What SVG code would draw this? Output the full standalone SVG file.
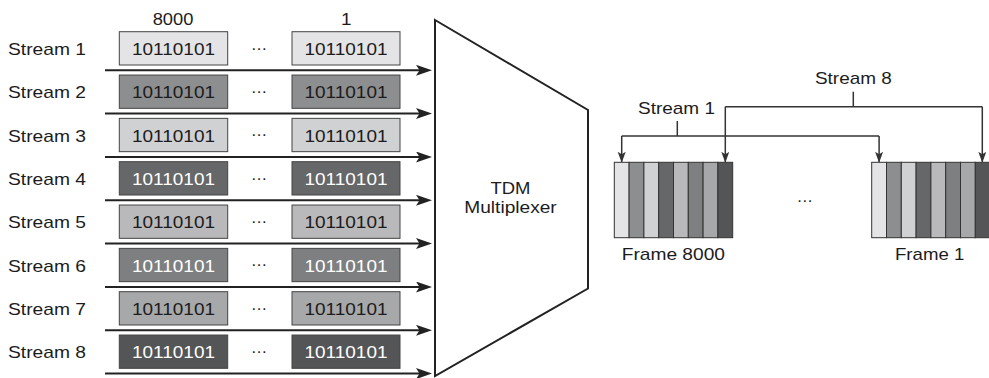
<svg xmlns="http://www.w3.org/2000/svg" width="989" height="378" viewBox="0 0 989 378">
<style>
text{font-family:"Liberation Sans",Arial,sans-serif;font-size:16.6px;fill:#1c1c1c}
.lt{fill:#fff}
.box{stroke:#444;stroke-width:1}
.seg{stroke:#333;stroke-width:1}
.arr{stroke:#222;stroke-width:2;fill:none}
.br{stroke:#333;stroke-width:1.5;fill:none}
.c1{fill:#e4e4e6}.c2{fill:#8d8e90}.c3{fill:#d0d1d3}.c4{fill:#666768}
.c5{fill:#b9b9bb}.c6{fill:#7e7f81}.c7{fill:#a7a8aa}.c8{fill:#545557}
</style>
<defs>
<marker id="ah" markerUnits="userSpaceOnUse" markerWidth="16" markerHeight="12" refX="11" refY="5.5" orient="auto" viewBox="0 0 16 12">
<path d="M0,0 L16,5.5 L0,11 L3.5,5.5 z" fill="#222"/>
</marker>
<marker id="dh" markerUnits="userSpaceOnUse" markerWidth="11" markerHeight="9" refX="10" refY="4" orient="auto" viewBox="0 0 11 9">
<path d="M0,0 L11,4 L0,8 L2.5,4 z" fill="#333"/>
</marker>
</defs>

<g id="headers">
<text x="152.7" y="25" textLength="40.7" lengthAdjust="spacingAndGlyphs">8000</text>
<text x="341" y="25" textLength="10.5" lengthAdjust="spacingAndGlyphs">1</text>
</g>

<g id="stream1">
<text x="8" y="55" textLength="78" lengthAdjust="spacingAndGlyphs">Stream 1</text>
<rect class="box c1" x="119.3" y="31.7" width="108.4" height="33.3"/>
<text x="132" y="55" textLength="83" lengthAdjust="spacingAndGlyphs">10110101</text>
<text x="259" y="49.8" text-anchor="middle">…</text>
<rect class="box c1" x="292" y="31.7" width="108" height="33.3"/>
<text x="304.5" y="55" textLength="83" lengthAdjust="spacingAndGlyphs">10110101</text>
</g>
<g id="stream2" transform="translate(0,43.33)">
<text x="8" y="55" textLength="78" lengthAdjust="spacingAndGlyphs">Stream 2</text>
<rect class="box c2" x="119.3" y="31.7" width="108.4" height="33.3"/>
<text x="132" y="55" textLength="83" lengthAdjust="spacingAndGlyphs">10110101</text>
<text x="259" y="49.8" text-anchor="middle">…</text>
<rect class="box c2" x="292" y="31.7" width="108" height="33.3"/>
<text x="304.5" y="55" textLength="83" lengthAdjust="spacingAndGlyphs">10110101</text>
</g>
<g id="stream3" transform="translate(0,86.67)">
<text x="8" y="55" textLength="78" lengthAdjust="spacingAndGlyphs">Stream 3</text>
<rect class="box c3" x="119.3" y="31.7" width="108.4" height="33.3"/>
<text x="132" y="55" textLength="83" lengthAdjust="spacingAndGlyphs">10110101</text>
<text x="259" y="49.8" text-anchor="middle">…</text>
<rect class="box c3" x="292" y="31.7" width="108" height="33.3"/>
<text x="304.5" y="55" textLength="83" lengthAdjust="spacingAndGlyphs">10110101</text>
</g>
<g id="stream4" transform="translate(0,130)">
<text x="8" y="55" textLength="78" lengthAdjust="spacingAndGlyphs">Stream 4</text>
<rect class="box c4" x="119.3" y="31.7" width="108.4" height="33.3"/>
<text class="lt" x="132" y="55" textLength="83" lengthAdjust="spacingAndGlyphs">10110101</text>
<text x="259" y="49.8" text-anchor="middle">…</text>
<rect class="box c4" x="292" y="31.7" width="108" height="33.3"/>
<text class="lt" x="304.5" y="55" textLength="83" lengthAdjust="spacingAndGlyphs">10110101</text>
</g>
<g id="stream5" transform="translate(0,173.33)">
<text x="8" y="55" textLength="78" lengthAdjust="spacingAndGlyphs">Stream 5</text>
<rect class="box c5" x="119.3" y="31.7" width="108.4" height="33.3"/>
<text x="132" y="55" textLength="83" lengthAdjust="spacingAndGlyphs">10110101</text>
<text x="259" y="49.8" text-anchor="middle">…</text>
<rect class="box c5" x="292" y="31.7" width="108" height="33.3"/>
<text x="304.5" y="55" textLength="83" lengthAdjust="spacingAndGlyphs">10110101</text>
</g>
<g id="stream6" transform="translate(0,216.67)">
<text x="8" y="55" textLength="78" lengthAdjust="spacingAndGlyphs">Stream 6</text>
<rect class="box c6" x="119.3" y="31.7" width="108.4" height="33.3"/>
<text class="lt" x="132" y="55" textLength="83" lengthAdjust="spacingAndGlyphs">10110101</text>
<text x="259" y="49.8" text-anchor="middle">…</text>
<rect class="box c6" x="292" y="31.7" width="108" height="33.3"/>
<text class="lt" x="304.5" y="55" textLength="83" lengthAdjust="spacingAndGlyphs">10110101</text>
</g>
<g id="stream7" transform="translate(0,260)">
<text x="8" y="55" textLength="78" lengthAdjust="spacingAndGlyphs">Stream 7</text>
<rect class="box c7" x="119.3" y="31.7" width="108.4" height="33.3"/>
<text x="132" y="55" textLength="83" lengthAdjust="spacingAndGlyphs">10110101</text>
<text x="259" y="49.8" text-anchor="middle">…</text>
<rect class="box c7" x="292" y="31.7" width="108" height="33.3"/>
<text x="304.5" y="55" textLength="83" lengthAdjust="spacingAndGlyphs">10110101</text>
</g>
<g id="stream8" transform="translate(0,303.33)">
<text x="8" y="55" textLength="78" lengthAdjust="spacingAndGlyphs">Stream 8</text>
<rect class="box c8" x="119.3" y="31.7" width="108.4" height="33.3"/>
<text class="lt" x="132" y="55" textLength="83" lengthAdjust="spacingAndGlyphs">10110101</text>
<text x="259" y="49.8" text-anchor="middle">…</text>
<rect class="box c8" x="292" y="31.7" width="108" height="33.3"/>
<text class="lt" x="304.5" y="55" textLength="83" lengthAdjust="spacingAndGlyphs">10110101</text>
</g>

<g id="mux">
<polygon points="435,20 588,110 588,288.5 435,376" fill="#fff" stroke="#222" stroke-width="2"/>
<text x="490.5" y="193.5" textLength="40" lengthAdjust="spacingAndGlyphs">TDM</text>
<text x="464.3" y="212.5" textLength="92.4" lengthAdjust="spacingAndGlyphs">Multiplexer</text>
</g>

<g id="frame8000">
<rect class="seg c1" x="614.3" y="162.3" width="14.8" height="75.4"/>
<rect class="seg c2" x="629.1" y="162.3" width="14.8" height="75.4"/>
<rect class="seg c3" x="643.9" y="162.3" width="14.8" height="75.4"/>
<rect class="seg c4" x="658.7" y="162.3" width="14.8" height="75.4"/>
<rect class="seg c5" x="673.5" y="162.3" width="14.8" height="75.4"/>
<rect class="seg c6" x="688.3" y="162.3" width="14.8" height="75.4"/>
<rect class="seg c7" x="703.1" y="162.3" width="14.8" height="75.4"/>
<rect class="seg c8" x="717.9" y="162.3" width="14.8" height="75.4"/>
<text x="621.7" y="260" textLength="103.3" lengthAdjust="spacingAndGlyphs">Frame 8000</text>
</g>
<g id="frame1">
<rect class="seg c1" x="871.7" y="162.3" width="14.8" height="75.4"/>
<rect class="seg c2" x="886.5" y="162.3" width="14.8" height="75.4"/>
<rect class="seg c3" x="901.3" y="162.3" width="14.8" height="75.4"/>
<rect class="seg c4" x="916.1" y="162.3" width="14.8" height="75.4"/>
<rect class="seg c5" x="930.9" y="162.3" width="14.8" height="75.4"/>
<rect class="seg c6" x="945.7" y="162.3" width="14.8" height="75.4"/>
<rect class="seg c7" x="960.5" y="162.3" width="14.8" height="75.4"/>
<rect class="seg c8" x="975.3" y="162.3" width="14.8" height="75.4"/>
<text x="895" y="260" textLength="69.3" lengthAdjust="spacingAndGlyphs">Frame 1</text>
</g>
<g id="frame-gap">
<text x="804.7" y="201.5" text-anchor="middle">…</text>
</g>

<g id="label-stream1">
<text x="638" y="114" textLength="77" lengthAdjust="spacingAndGlyphs">Stream 1</text>
</g>
<g id="label-stream8">
<text x="815" y="84" textLength="76.7" lengthAdjust="spacingAndGlyphs">Stream 8</text>
</g>

<g id="connectors">
<line class="arr" x1="105" y1="70.3" x2="427" y2="70.3" marker-end="url(#ah)"/>
<line class="arr" x1="105" y1="113.6" x2="427" y2="113.6" marker-end="url(#ah)"/>
<line class="arr" x1="105" y1="157" x2="427" y2="157" marker-end="url(#ah)"/>
<line class="arr" x1="105" y1="200.3" x2="427" y2="200.3" marker-end="url(#ah)"/>
<line class="arr" x1="105" y1="243.6" x2="427" y2="243.6" marker-end="url(#ah)"/>
<line class="arr" x1="105" y1="287" x2="427" y2="287" marker-end="url(#ah)"/>
<line class="arr" x1="105" y1="330.3" x2="427" y2="330.3" marker-end="url(#ah)"/>
<line class="arr" x1="105" y1="373.6" x2="427" y2="373.6" marker-end="url(#ah)"/>
<line class="br" x1="677.3" y1="121" x2="677.3" y2="136"/>
<path class="br" d="M621.7,136 H879.1"/>
<line class="br" x1="621.7" y1="136" x2="621.7" y2="161.8" marker-end="url(#dh)"/>
<line class="br" x1="879.1" y1="136" x2="879.1" y2="161.8" marker-end="url(#dh)"/>
<line class="br" x1="853.3" y1="91.7" x2="853.3" y2="106.7"/>
<path class="br" d="M725.3,106.7 H982.3"/>
<line class="br" x1="725.3" y1="106.7" x2="725.3" y2="161.8" marker-end="url(#dh)"/>
<line class="br" x1="982.3" y1="106.7" x2="982.3" y2="161.8" marker-end="url(#dh)"/>
</g>
</svg>
